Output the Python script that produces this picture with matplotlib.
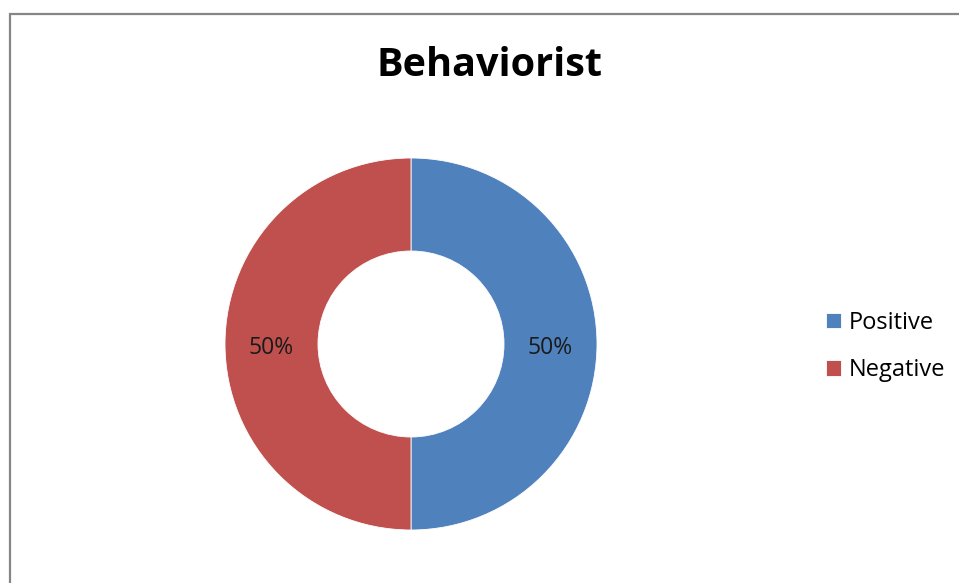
import matplotlib
matplotlib.use("Agg")
import matplotlib.pyplot as plt
from matplotlib.patches import Rectangle

# === data ===
labels = ["Positive", "Negative"]
values = [50, 50]
colors = ["#4F81BD", "#C0504D"]
title = "Behaviorist"

plt.rcParams["font.family"] = ["Open Sans", "DejaVu Sans"]

W, H = 959, 583
fig = plt.figure(figsize=(W / 100, H / 100), dpi=100)
fig.patch.set_facecolor("white")

# chart frame (runs off right and bottom edge like the source)
fig.patches.append(Rectangle((10 / W, -0.1), 1.2, (H - 14) / H + 0.1,
                             transform=fig.transFigure, fill=False,
                             edgecolor="#868686", linewidth=1.6))

# donut axes: center (411, 344) px, radius 186 px
cx, cy, r = 411, H - 344, 186
ax = fig.add_axes([(cx - r) / W, (cy - r) / H, 2 * r / W, 2 * r / H])
wedges, _, autotexts = ax.pie(values, colors=colors, startangle=90, counterclock=False,
                              radius=1, autopct="%1.0f%%", pctdistance=0.75,
                              wedgeprops=dict(width=0.5, edgecolor="white", linewidth=0.6),
                              textprops=dict(fontsize=16.5, color="#1a1a1a"))
# nudge labels down a touch, like the source
for t in autotexts:
    x, y = t.get_position()
    t.set_position((x, y - 0.02))
ax.set_xlim(-1, 1)
ax.set_ylim(-1, 1)
ax.set_aspect("equal")
ax.axis("off")

fig.text(489 / W, 1 - 66 / H, title, ha="center", va="center",
         fontsize=28.5, fontweight="bold", color="black")

leg = fig.legend(wedges, labels, loc="center left",
                 bbox_to_anchor=(826 / W, 1 - 346.5 / H),
                 frameon=False, fontsize=17, handlelength=0.63, handleheight=0.63,
                 handletextpad=0.34, labelspacing=1.0,
                 borderpad=0, borderaxespad=0)

fig.savefig("out.png", dpi=100, facecolor="white")
